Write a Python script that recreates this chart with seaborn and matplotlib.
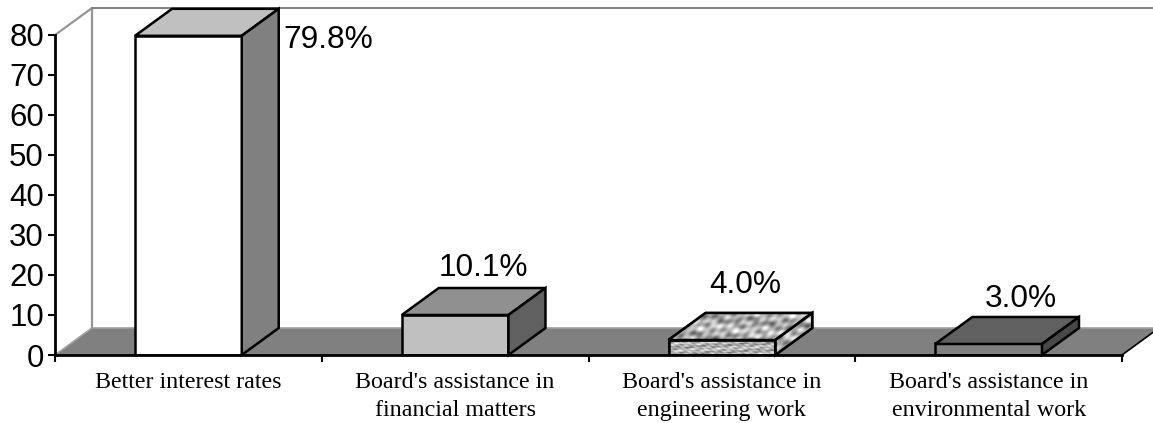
import numpy as np
import pandas as pd
import seaborn as sns
import matplotlib
matplotlib.use("Agg")
import matplotlib.pyplot as plt
from matplotlib.patches import Polygon

# values
categories = ["Better interest rates",
              "Board's assistance in\nfinancial matters",
              "Board's assistance in\nengineering work",
              "Board's assistance in\nenvironmental work"]
percent = [79.8, 10.1, 4.0, 3.0]
labels = ["79.8%", "10.1%", "4.0%", "3.0%"]
front_colors = ["#ffffff", "#c0c0c0", "#c4c4c4", "#808080"]
top_colors = ["#c0c0c0", "#909090", "#b0b0b0", "#606060"]
side_colors = ["#808080", "#606060", "#a8a8a8", "#484848"]
label_off = [(42, -4), (28, 20), (23, 28), (32, 18)]  # px from bar top
yticks = [0, 10, 20, 30, 40, 50, 60, 70, 80]

W, H = 1153, 423
sns.set_theme(style="white")
plt.rcParams['font.family'] = ['Liberation Sans', 'DejaVu Sans']

fig = plt.figure(figsize=(W / 100, H / 100), dpi=100)
ax = fig.add_axes([55 / W, 1 - 355 / H, 1067 / W, 320 / H])

df = pd.DataFrame({"cat": categories, "pct": percent})
bar_w = 0.4
sns.barplot(data=df, x="cat", y="pct", hue="cat", palette=front_colors, width=bar_w,
            edgecolor="black", linewidth=1.8, saturation=1, legend=False, ax=ax, zorder=3)
ax.set_xlim(-0.5, 3.5)
ax.set_ylim(0, 80)

# depth of the fake 3d box
dx = 37 / 266.75
dy = 6.75

# floor and walls
xl, xr = -0.5, 3.5
ax.add_patch(Polygon([(xl, 0), (xr, 0), (xr + dx, dy), (xl + dx, dy)], closed=True,
                     facecolor="#808080", edgecolor="none", clip_on=False, zorder=1))
ax.plot([xl + dx, xr + dx], [dy, dy], color="#a0a0a0", lw=1.2, clip_on=False, zorder=1.5)
ax.plot([xl, xl + dx], [0, dy], color="#a0a0a0", lw=1.2, clip_on=False, zorder=1.5)
ax.plot([xl + dx, xl + dx], [dy, 80 + dy], color="#969696", lw=1.6, clip_on=False, zorder=1.5)
ax.plot([xl, xl + dx], [80, 80 + dy], color="#969696", lw=1.6, clip_on=False, zorder=1.5)
ax.plot([xl + dx, xr + dx], [80 + dy, 80 + dy], color="#808080", lw=1.4, clip_on=False, zorder=1.5)
ax.plot([xr, xr + dx], [0, dy], color="black", lw=1.2, clip_on=False, zorder=2)

# top and side of each bar
heights = [79.8, 10.0, 3.75, 2.75]
for i, v in enumerate(heights):
    x0, x1 = i - bar_w / 2, i + bar_w / 2
    top = Polygon([(x0, v), (x1, v), (x1 + dx, v + dy), (x0 + dx, v + dy)], closed=True,
                  facecolor=top_colors[i], edgecolor="black", lw=1.8, clip_on=False, zorder=4)
    side = Polygon([(x1, 0), (x1 + dx, dy), (x1 + dx, v + dy), (x1, v)], closed=True,
                   facecolor=side_colors[i], edgecolor="black", lw=1.8, clip_on=False, zorder=4)
    ax.add_patch(top)
    ax.add_patch(side)
    ax.annotate(labels[i], (x1 if i == 0 else i, v if i == 0 else v + dy),
                xytext=(label_off[i][0] * 0.72, label_off[i][1] * 0.72),
                textcoords="offset points", fontsize=22.8, color="black",
                ha="left" if i == 0 else "center", va="center", zorder=6)

    # mottled stone fill on the third bar
    if i == 2:
        yy, xx = np.mgrid[0:60, 0:240]
        tex = (np.sin(xx * 0.11 + yy * 0.42) + np.sin(xx * 0.07 - yy * 0.61 + 1.0)
               + np.sin(xx * 0.23 + yy * 0.17 + 2.0) + np.sin(xx * 0.41 - yy * 0.37)
               + np.sin(xx * 0.019 + yy * 0.23 + 4.0))
        for p in (top, side):
            im = ax.imshow(tex, extent=(x0, x1 + dx, 0, v + dy), aspect="auto", cmap="gray",
                           vmin=-9, vmax=4, origin="lower", zorder=4.5, clip_on=True)
            im.set_clip_path(p)
        ax.imshow(tex[::-1], extent=(x0, x1, 0, v), aspect="auto", cmap="gray",
                  vmin=-9, vmax=4, origin="lower", zorder=3.5)
        ax.add_patch(Polygon([(x0, 0), (x1, 0), (x1, v), (x0, v)], closed=True, fill=False,
                             edgecolor="black", lw=1.8, zorder=5))
        ax.add_patch(Polygon(top.get_xy(), closed=True, fill=False, edgecolor="black", lw=1.8,
                             clip_on=False, zorder=5))
        ax.add_patch(Polygon(side.get_xy(), closed=True, fill=False, edgecolor="black", lw=1.8,
                             clip_on=False, zorder=5))

ax.set_xlim(-0.5, 3.5)
ax.set_ylim(0, 80)
ax.set_xlabel("")
ax.set_ylabel("")
ax.set_yticks(yticks)
ax.tick_params(axis="y", length=5, width=1.5, color="black", labelsize=22.5, pad=3, labelcolor="black", left=True)
ax.set_xticks([-0.5, 0.5, 1.5, 2.5, 3.5])
ax.set_xticklabels([])
ax.tick_params(axis="x", length=5, width=1.5, color="black", bottom=True)
for i, c in enumerate(categories):
    ax.annotate(c, (i, 0), xytext=(0, -12.5), textcoords="offset points", ha="center", va="top",
                fontsize=17.3, family=["Liberation Serif"], color="black", linespacing=1.42,
                annotation_clip=False)

sns.despine(ax=ax, top=True, right=True)
for s in ["left", "bottom"]:
    ax.spines[s].set_color("black")
    ax.spines[s].set_linewidth(2)
    ax.spines[s].set_zorder(7)

fig.savefig("out.png", dpi=100)
